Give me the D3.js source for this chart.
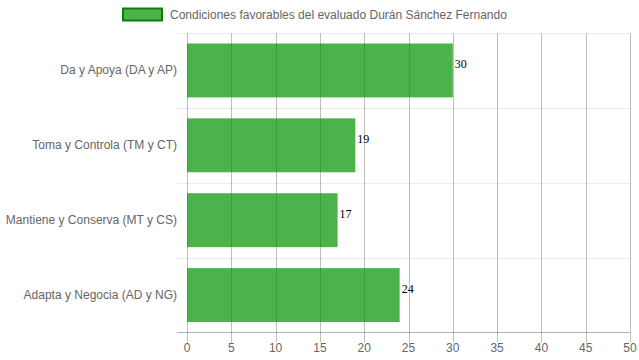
<html>
<head>
<script src="https://cdnjs.cloudflare.com/ajax/libs/d3/7.8.5/d3.min.js"></script>
<style>
  body { margin: 0; background: #fff; }
  text { font-family: "Liberation Sans", Arial, sans-serif; }
</style>
</head>
<body>
<div id="chart"></div>
<script>
    var categories = ['Da y Apoya (DA y AP)', 'Toma y Controla (TM y CT)', 'Mantiene y Conserva (MT y CS)', 'Adapta y Negocia (AD y NG)'];
    var values = [30, 19, 17, 24];
    var xTicks = [0, 5, 10, 15, 20, 25, 30, 35, 40, 45, 50];
    var seriesName = 'Condiciones favorables del evaluado Durán Sánchez Fernando';

    var width = 639, height = 360;
    var plotLeft = 187, plotRight = 630, plotTop = 33, plotBottom = 332.5;
    var barFill = 'rgba(0,146,0,0.7)';

    var svg = d3.select('#chart').append('svg').attr('width', width).attr('height', height);

    var x = d3.scaleLinear().domain([0, 50]).range([plotLeft, plotRight]);
    var y = d3.scaleBand().domain(categories).range([plotTop, plotBottom]).paddingInner(0).paddingOuter(0);

    // horizontal grid lines (category boundaries)
    svg.append('g').selectAll('line').data(categories).enter().append('line')
        .attr('x1', plotLeft - 10).attr('x2', plotRight)
        .attr('y1', d => Math.round(y(d)) + 0.5).attr('y2', d => Math.round(y(d)) + 0.5)
        .attr('stroke', 'rgba(0,0,0,0.08)');

    // vertical grid lines
    svg.append('g').selectAll('line').data(xTicks).enter().append('line')
        .attr('x1', d => Math.round(x(d)) + 0.5).attr('x2', d => Math.round(x(d)) + 0.5)
        .attr('y1', plotTop).attr('y2', plotBottom + 10)
        .attr('stroke', 'rgba(0,0,0,0.25)');

    // bars (semi-transparent so the grid shows through)
    svg.append('g').selectAll('rect').data(values).enter().append('rect')
        .attr('x', x(0))
        .attr('y', (d, i) => y(categories[i]) + y.bandwidth() * 0.14)
        .attr('width', d => x(d) - x(0))
        .attr('height', y.bandwidth() * 0.72)
        .attr('fill', barFill);

    // value labels
    svg.append('g').selectAll('text').data(values).enter().append('text')
        .attr('x', d => x(d) + 2)
        .attr('y', (d, i) => y(categories[i]) + y.bandwidth() / 2 - 2.5)
        .style('font-family', '"Liberation Serif", "Times New Roman", serif')
        .style('font-size', '12px')
        .attr('fill', '#000')
        .text(d => d);

    // bottom axis line
    svg.append('line')
        .attr('x1', plotLeft - 10).attr('x2', plotRight)
        .attr('y1', plotBottom).attr('y2', plotBottom)
        .attr('stroke', 'rgba(0,0,0,0.3)');

    // x tick labels
    svg.append('g').selectAll('text').data(xTicks).enter().append('text')
        .attr('x', d => x(d))
        .attr('y', 352)
        .attr('text-anchor', 'middle')
        .style('font-size', '12px')
        .attr('fill', '#666')
        .text(d => d);

    // y category labels
    svg.append('g').selectAll('text').data(categories).enter().append('text')
        .attr('x', plotLeft - 10)
        .attr('y', d => y(d) + y.bandwidth() / 2 + 4)
        .attr('text-anchor', 'end')
        .style('font-size', '12px')
        .attr('fill', '#666')
        .text(d => d);

    // legend
    svg.append('rect')
        .attr('x', 123).attr('y', 8.5).attr('width', 39).attr('height', 12)
        .attr('fill', barFill).attr('stroke', '#0a800a').attr('stroke-width', 2);
    svg.append('text')
        .attr('x', 170).attr('y', 19)
        .style('font-size', '12px')
        .attr('fill', '#666')
        .text(seriesName);
</script>
</body>
</html>
